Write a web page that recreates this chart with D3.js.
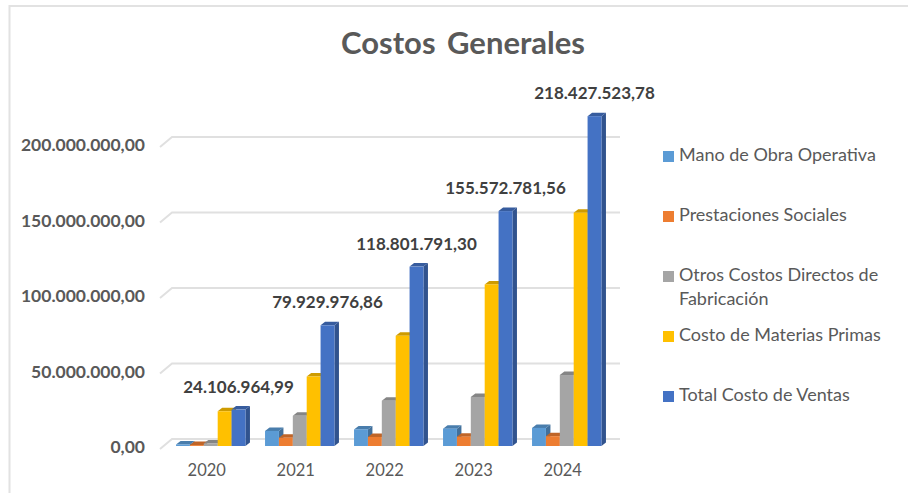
<!DOCTYPE html>
<html>
<head>
<meta charset="utf-8">
<script src="https://cdnjs.cloudflare.com/ajax/libs/d3/7.8.5/d3.min.js"></script>
<style>
    html, body { margin: 0; padding: 0; background: #fff; }
    svg { display: block; font-family: Lato, "Open Sans", sans-serif; }
    .axis text { fill: #595959; font-family: Lato, "Open Sans", sans-serif; }
    .axis path, .axis line { display: none; }
    .y-axis text { font-size: 17.5px; font-weight: 700; }
    .x-axis text { font-size: 16.5px; font-weight: 400; }
</style>
</head>
<body>
<svg id="chart" width="908" height="493"></svg>
<script>
const years = ['2020', '2021', '2022', '2023', '2024'];
const yTicks = [0, 50000000, 100000000, 150000000, 200000000];

const manoObra = [1000000, 10000000, 11000000, 11500000, 12000000];
const prestaciones = [600000, 5500000, 6000000, 6200000, 6500000];
const otrosCostos = [1700000, 20000000, 30000000, 32500000, 47000000];
const materiasPrimas = [23000000, 46000000, 73000000, 107000000, 154500000];
const totalVentas = [24106964.99, 79929976.86, 118801791.30, 155572781.56, 218427523.78];

const seriesNames = ['Mano de Obra Operativa', 'Prestaciones Sociales', 'Otros Costos Directos de|Fabricación', 'Costo de Materias Primas', 'Total Costo de Ventas'];
const seriesValues = [manoObra, prestaciones, otrosCostos, materiasPrimas, totalVentas];
const seriesColors = ['#5B9BD5', '#ED7D31', '#A5A5A5', '#FFC000', '#4472C4'];

const esLocale = d3.formatLocale({decimal: ',', thousands: '.', grouping: [3], currency: ['', '']});
const fmt = esLocale.format(',.2f');

const svg = d3.select('#chart');
const depthX = 4.5, depthY = 3.5;

const yScale = d3.scaleLinear().domain([0, 200000000]).range([446, 144]);
const xScale = d3.scaleBand().domain(years).range([166.25, 611.25]).paddingInner(0.22).paddingOuter(0.11);
const xInner = d3.scaleBand().domain(d3.range(5)).range([0, xScale.bandwidth()]);

// frame, only top and left are visible in the picture
svg.append('path')
    .attr('d', d3.line()([[9.5, 493], [9.5, 6], [908, 6]]))
    .attr('fill', 'none')
    .attr('stroke', '#e2e2e2')
    .attr('stroke-width', 2);

svg.append('text')
    .attr('x', 463)
    .attr('y', 54)
    .attr('text-anchor', 'middle')
    .attr('fill', '#595959')
    .style('font-size', '31px')
    .style('font-weight', 700)
    .style('word-spacing', '4px')
    .text('Costos Generales');

// gridlines with the stub of the 3D floor
svg.append('g')
    .selectAll('path')
    .data(yTicks)
    .join('path')
    .attr('d', d => d3.line()([[160, yScale(d) + 3], [172, yScale(d) - 7], [620, yScale(d) - 7]]))
    .attr('fill', 'none')
    .attr('stroke', '#e0e0e0')
    .attr('stroke-width', 2);

svg.append('g')
    .attr('class', 'axis y-axis')
    .attr('transform', 'translate(145,1)')
    .call(d3.axisLeft(yScale).tickValues(yTicks).tickFormat(fmt).tickSize(0).tickPadding(0));

svg.append('g')
    .attr('class', 'axis x-axis')
    .attr('transform', 'translate(-4,457)')
    .call(d3.axisBottom(xScale).tickSize(0).tickPadding(7));

// bars are drawn left to right so each one hides the side of its neighbour
const polygon = pts => pts.map(p => p.join(',')).join(' ');

seriesValues.forEach((values, s) => {
    const color = d3.color(seriesColors[s]);
    const bars = svg.append('g').selectAll('g')
        .data(values.map((v, i) => ({year: years[i], value: v})))
        .join('g');

    const x0 = d => xScale(d.year) + xInner(s);
    const x1 = d => x0(d) + xInner.bandwidth();
    const yTop = d => yScale(d.value);
    const yBase = yScale(0);

    bars.append('polygon')
        .attr('fill', color.darker(0.9))
        .attr('points', d => polygon([[x1(d), yTop(d)], [x1(d) + depthX, yTop(d) - depthY], [x1(d) + depthX, yBase - depthY], [x1(d), yBase]]));

    bars.append('polygon')
        .attr('fill', color.darker(0.6))
        .attr('points', d => polygon([[x0(d), yTop(d)], [x0(d) + depthX, yTop(d) - depthY], [x1(d) + depthX, yTop(d) - depthY], [x1(d), yTop(d)]]));

    bars.append('rect')
        .attr('x', x0)
        .attr('y', yTop)
        .attr('width', xInner.bandwidth())
        .attr('height', d => yBase - yTop(d))
        .attr('fill', color);
});

// labels only on the total
svg.append('g')
    .selectAll('text')
    .data(totalVentas)
    .join('text')
    .attr('x', (d, i) => xScale(years[i]) + xInner(4) + xInner.bandwidth() / 2)
    .attr('y', d => yScale(d) - 17)
    .attr('text-anchor', 'middle')
    .attr('fill', '#404040')
    .style('font-size', '17px')
    .style('font-weight', 700)
    .text(fmt);

// legend
const legendY = d3.scalePoint().domain(d3.range(5)).range([156.5, 396.5]);
const legend = svg.append('g')
    .selectAll('g')
    .data(seriesNames)
    .join('g')
    .attr('transform', (d, i) => `translate(663,${legendY(i)})`);

legend.append('rect')
    .attr('y', -5.5)
    .attr('width', 11)
    .attr('height', 11)
    .attr('fill', (d, i) => seriesColors[i]);

legend.append('text')
    .attr('x', 16)
    .attr('fill', '#595959')
    .style('font-size', '18px')
    .selectAll('tspan')
    .data(d => d.split('|'))
    .join('tspan')
    .attr('x', 16)
    .attr('y', (d, i) => 4 + i * 24)
    .text(d => d);
</script>
</body>
</html>
